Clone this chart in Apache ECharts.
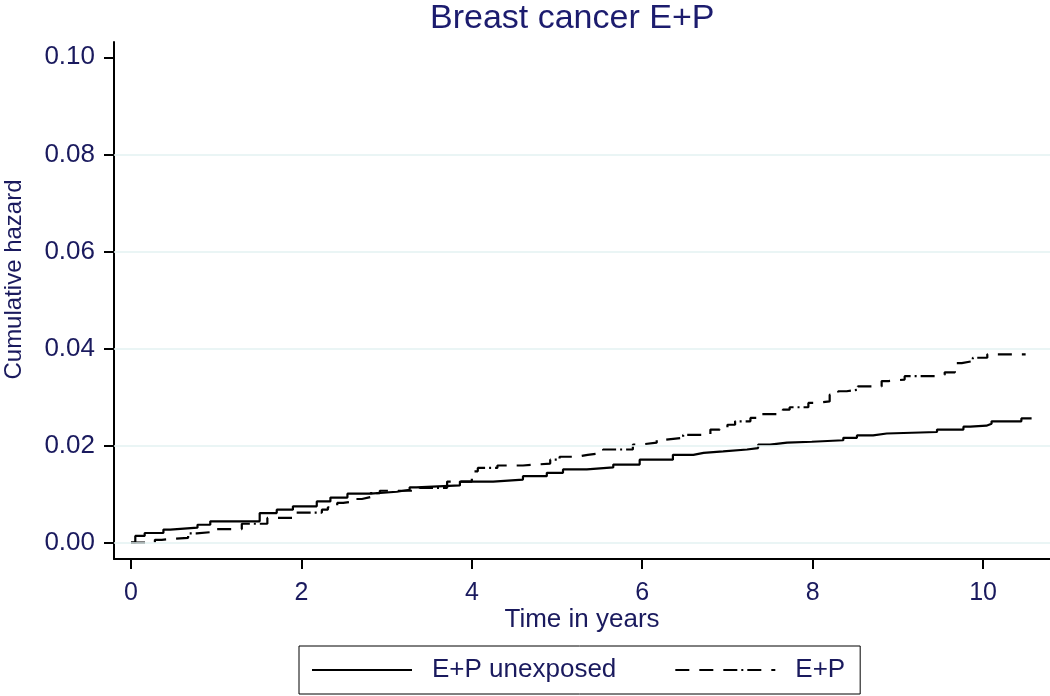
<!DOCTYPE html>
<html>
<head>
<meta charset="utf-8">
<script src="https://cdn.jsdelivr.net/npm/echarts@6/dist/echarts.min.js"></script>
<style>
html,body{margin:0;padding:0;background:#fff;}
#chart{width:1050px;height:696px;}
</style>
</head>
<body>
<div id="chart"></div>
<script>
// ---- data ----
const titleText = 'Breast cancer E+P';
const seriesNames = ['E+P unexposed', 'E+P'];
const xTicks = [0, 2, 4, 6, 8, 10];
const yTicks = [0, 0.02, 0.04, 0.06, 0.08, 0.10];
const gridValues = [0, 0.02, 0.04, 0.06, 0.08];

const timeUnexposed = [0, 0.05, 0.16, 0.38, 0.46, 0.78, 0.93, 1.51, 1.71, 1.90, 2.18, 2.34, 2.54, 2.81, 3.12, 3.27, 3.35, 3.86, 4.25, 4.60, 4.88, 5.07, 5.35, 5.66, 5.97, 6.36, 6.60, 6.72, 6.95, 7.23, 7.36, 7.50, 7.70, 7.99, 8.36, 8.52, 8.71, 8.87, 9.46, 9.77, 9.85, 10.04, 10.10, 10.45, 10.57];
const hazardUnexposed = [0, 0.0014, 0.0020, 0.0027, 0.0031, 0.0037, 0.0044, 0.0061, 0.0068, 0.0075, 0.0085, 0.0093, 0.0101, 0.0105, 0.0109, 0.0114, 0.0118, 0.0126, 0.0130, 0.0137, 0.0144, 0.0151, 0.0155, 0.0161, 0.0171, 0.0181, 0.0185, 0.0188, 0.0192, 0.0195, 0.0202, 0.0206, 0.0208, 0.0211, 0.0216, 0.0221, 0.0225, 0.0228, 0.0233, 0.0239, 0.0241, 0.0245, 0.0250, 0.0256, 0.0256];

const timeEP = [0, 0.20, 0.28, 0.36, 0.67, 0.77, 1.01, 1.30, 1.60, 1.90, 2.24, 2.31, 2.42, 2.49, 2.63, 2.71, 2.81, 2.92, 3.39, 3.71, 4.00, 4.07, 4.30, 4.60, 4.92, 5.03, 5.23, 5.36, 5.54, 5.89, 5.97, 6.17, 6.27, 6.48, 6.80, 6.91, 7.00, 7.09, 7.27, 7.35, 7.65, 7.73, 7.95, 8.03, 8.20, 8.30, 8.40, 8.53, 8.81, 8.89, 9.08, 9.47, 9.55, 9.67, 9.75, 9.88, 10.05, 10.50];
const hazardEP = [0, 0, 0.0006, 0.0010, 0.0019, 0.0023, 0.0028, 0.0039, 0.0051, 0.0062, 0.0068, 0.0073, 0.0082, 0.0085, 0.0090, 0.0094, 0.0102, 0.0107, 0.0113, 0.0126, 0.0147, 0.0154, 0.0159, 0.0163, 0.0171, 0.0177, 0.0181, 0.0185, 0.0192, 0.0202, 0.0206, 0.0212, 0.0216, 0.0222, 0.0233, 0.0238, 0.0243, 0.0250, 0.0257, 0.0265, 0.0274, 0.0279, 0.0288, 0.0291, 0.0305, 0.0312, 0.0315, 0.0322, 0.0333, 0.0336, 0.0343, 0.0346, 0.0351, 0.0370, 0.0374, 0.0381, 0.0388, 0.0388];

const pairs = (xs, ys) => xs.map((x, i) => [x, ys[i]]);

const FONT = '"Liberation Sans", Arial, sans-serif';
const TXT = '#1a1a5e';

const chart = echarts.init(document.getElementById('chart'), null, {renderer: 'canvas'});
chart.setOption({
  animation: false,
  backgroundColor: '#ffffff',
  title: {
    text: titleText,
    left: 430,
    top: 2,
    padding: 0,
    textStyle: {fontFamily: FONT, fontSize: 34, fontWeight: 'normal', color: '#1c1c6e'}
  },
  legend: {
    data: seriesNames,
    left: 299,
    top: 646,
    orient: 'horizontal',
    padding: [11, 15, 11, 12],
    itemWidth: 100,
    itemHeight: 26,
    itemGap: 58,
    borderColor: '#000',
    borderWidth: 1,
    borderRadius: 0,
    selectedMode: false,
    itemStyle: {opacity: 0},
    textStyle: {fontFamily: FONT, fontSize: 26, color: TXT, padding: [0, 0, 0, 15]}
  },
  grid: {left: 114, right: 0, top: 42, bottom: 137, containLabel: false, outerBoundsMode: 'none'},
  xAxis: {
    type: 'value',
    min: -0.2,
    max: 10.786,
    name: 'Time in years',
    nameLocation: 'middle',
    nameGap: 48,
    nameMoveOverlap: false,
    nameTextStyle: {fontFamily: FONT, fontSize: 26, color: TXT},
    axisLine: {show: true, onZero: false, lineStyle: {color: '#000', width: 2}},
    axisTick: {show: true, customValues: xTicks, length: 10, lineStyle: {color: '#000', width: 2}},
    axisLabel: {customValues: xTicks, margin: 22, fontFamily: FONT, fontSize: 25, color: TXT,
      formatter: v => String(v)},
    splitLine: {show: false}
  },
  yAxis: {
    type: 'value',
    min: -0.00336,
    max: 0.10315,
    name: 'Cumulative hazard',
    nameLocation: 'middle',
    nameGap: 88,
    nameMoveOverlap: false,
    nameRotate: 90,
    nameTextStyle: {fontFamily: FONT, fontSize: 24, color: TXT, padding: [0, 0, 0, 42]},
    axisLine: {show: true, onZero: false, lineStyle: {color: '#000', width: 2}},
    axisTick: {show: true, customValues: yTicks, length: 10, lineStyle: {color: '#000', width: 2}},
    axisLabel: {customValues: yTicks, margin: 19, fontFamily: FONT, fontSize: 26, color: TXT,
      formatter: v => v.toFixed(2)},
    splitLine: {show: false}
  },
  series: [
    {
      name: seriesNames[0],
      type: 'line',
      step: 'end',
      symbol: 'none',
      data: pairs(timeUnexposed, hazardUnexposed),
      lineStyle: {color: '#000', width: 2.2, type: 'solid'},
      itemStyle: {color: '#000'},
      z: 3,
      markLine: {
        silent: true,
        symbol: ['none', 'none'],
        label: {show: false},
        lineStyle: {color: '#e3f2f2', width: 1.5, type: 'solid'},
        data: gridValues.map(v => ({yAxis: v}))
      }
    },
    {
      name: seriesNames[1],
      type: 'line',
      step: 'end',
      symbol: 'none',
      data: pairs(timeEP, hazardEP),
      lineStyle: {color: '#000', width: 2.2, type: [14, 10, 14, 10, 14, 4, 2, 4]},
      itemStyle: {color: '#000'},
      z: 4
    }
  ]
});
</script>
</body>
</html>
